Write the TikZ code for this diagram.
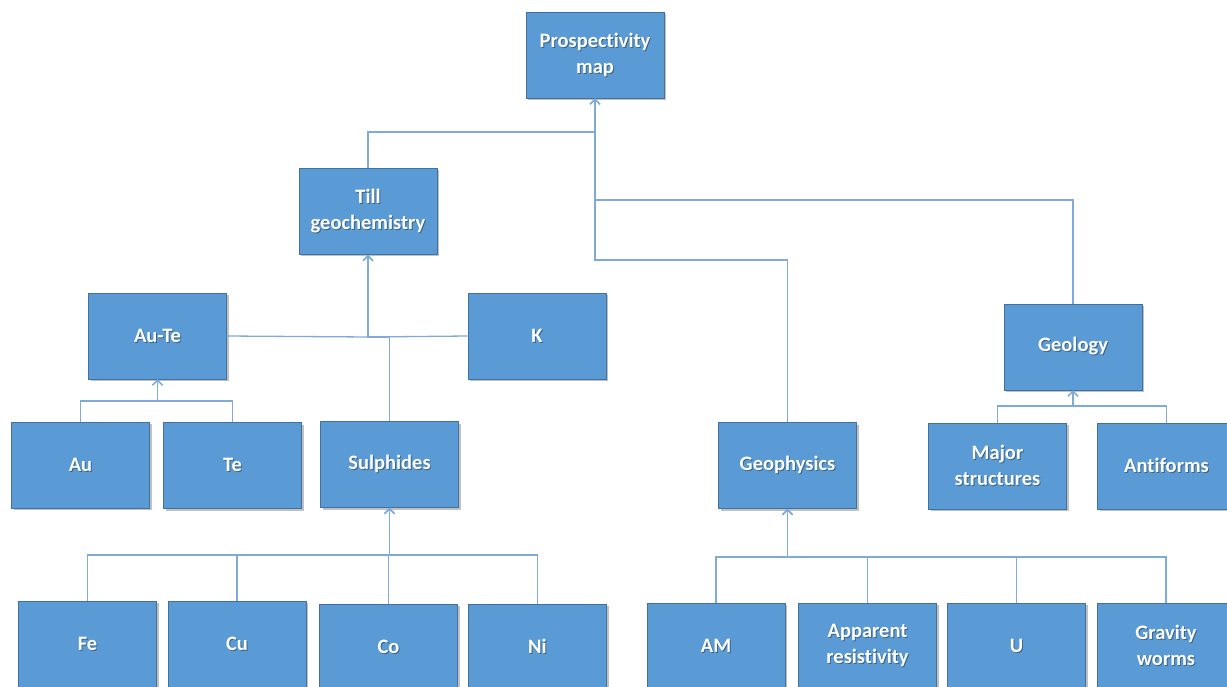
\documentclass[tikz,border=0pt]{standalone}
\usepackage{fontspec}
\setmainfont{Carlito}[Ligatures={NoCommon}]
\usetikzlibrary{arrows.meta,shadows}
\definecolor{boxfill}{HTML}{5B9BD5}
\definecolor{boxline}{HTML}{41719C}
\definecolor{connc}{HTML}{7FAADC}
\definecolor{tshade}{HTML}{3C6488}
\newcommand\tsh[1]{\makebox[0pt][l]{\hspace{1pt}\raisebox{-1pt}{\textcolor{tshade}{#1}}}#1}
\tikzset{
  bx/.style={draw=boxline, line width=0.8pt, fill=boxfill, minimum width=138pt, minimum height=86pt,
    text width=134pt, align=center, inner sep=0pt, text=white,
    font=\fontsize{20.5}{26}\selectfont\bfseries,
    drop shadow={shadow xshift=2pt, shadow yshift=-2pt, opacity=0.35, fill=black!70}},
  conn/.style={draw=connc, line width=1.3pt, -{Straight Barb[length=5pt,width=10pt,line width=1.2pt]}}
}
\begin{document}
\begin{tikzpicture}[x=1pt,y=-1pt]
\useasboundingbox (0,0) rectangle (1227,687);
\clip (0,0) rectangle (1227,687);
% nodes
\node[bx] (pm) at (595,55) {\tsh{Prospectivity}\\\tsh{map}};
\node[bx] (till) at (368,211.5) {\tsh{Till}\\\tsh{geochemistry}};
\node[bx] (aute) at (157.5,336) {\tsh{Au-Te}};
\node[bx] (k) at (537,336) {\tsh{K}};
\node[bx] (au) at (80.5,465) {\tsh{Au}};
\node[bx] (te) at (232.5,465.5) {\tsh{Te}};
\node[bx] (sul) at (389.5,464.5) {\tsh{Sulphides}};
\node[bx] (gph) at (787.5,465.5) {\tsh{Geophysics}};
\node[bx] (geo) at (1073,347) {\tsh{Geology}};
\node[bx] (ms) at (997.5,466) {\tsh{Major}\\\tsh{structures}};
\node[bx] (anti) at (1166.5,466) {\tsh{Antiforms}};
\node[bx] (fe) at (87.5,644) {\tsh{Fe}};
\node[bx] (cu) at (237,644) {\tsh{Cu}};
\node[bx] (co) at (388.5,647) {\tsh{Co}};
\node[bx] (ni) at (537.5,647) {\tsh{Ni}};
\node[bx] (am) at (716,646) {\tsh{AM}};
\node[bx] (ar) at (867.5,646) {\tsh{Apparent}\\\tsh{resistivity}};
\node[bx] (u) at (1016.5,646) {\tsh{U}};
\node[bx] (gw) at (1166,646) {\tsh{Gravity}\\\tsh{worms}};
% junction coordinates
\coordinate (jtill) at (595,132);
\coordinate (jgeo) at (595,200);
\coordinate (jgph) at (595,260);
\coordinate (jt) at (368,337);
\coordinate (ja) at (157.5,401);
\coordinate (js) at (389.5,555);
\coordinate (jg) at (787.5,557);
\coordinate (jgl) at (1073,406);
% connectors
\draw[conn] (till.north) |- (jtill) -- (pm.south);
\draw[conn] (geo.north) |- (jgeo) -- (pm.south);
\draw[conn] (gph.north) |- (jgph) -- (pm.south);
\draw[conn] (aute.east) -- (jt) -- (till.south);
\draw[conn] (k.west) -- (jt) -- (till.south);
\draw[conn] (sul.north) |- (jt) -- (till.south);
\draw[conn] (au.north) |- (ja) -- (aute.south);
\draw[conn] (te.north) |- (ja) -- (aute.south);
\draw[conn] (fe.north) |- (js) -- (sul.south);
\draw[conn] (cu.north) |- (js) -- (sul.south);
\draw[conn] (co.north) |- (js) -- (sul.south);
\draw[conn] (ni.north) |- (js) -- (sul.south);
\draw[conn] (am.north) |- (jg) -- (gph.south);
\draw[conn] (ar.north) |- (jg) -- (gph.south);
\draw[conn] (u.north) |- (jg) -- (gph.south);
\draw[conn] (gw.north) |- (jg) -- (gph.south);
\draw[conn] (ms.north) |- (jgl) -- (geo.south);
\draw[conn] (anti.north) |- (jgl) -- (geo.south);
\end{tikzpicture}
\end{document}
